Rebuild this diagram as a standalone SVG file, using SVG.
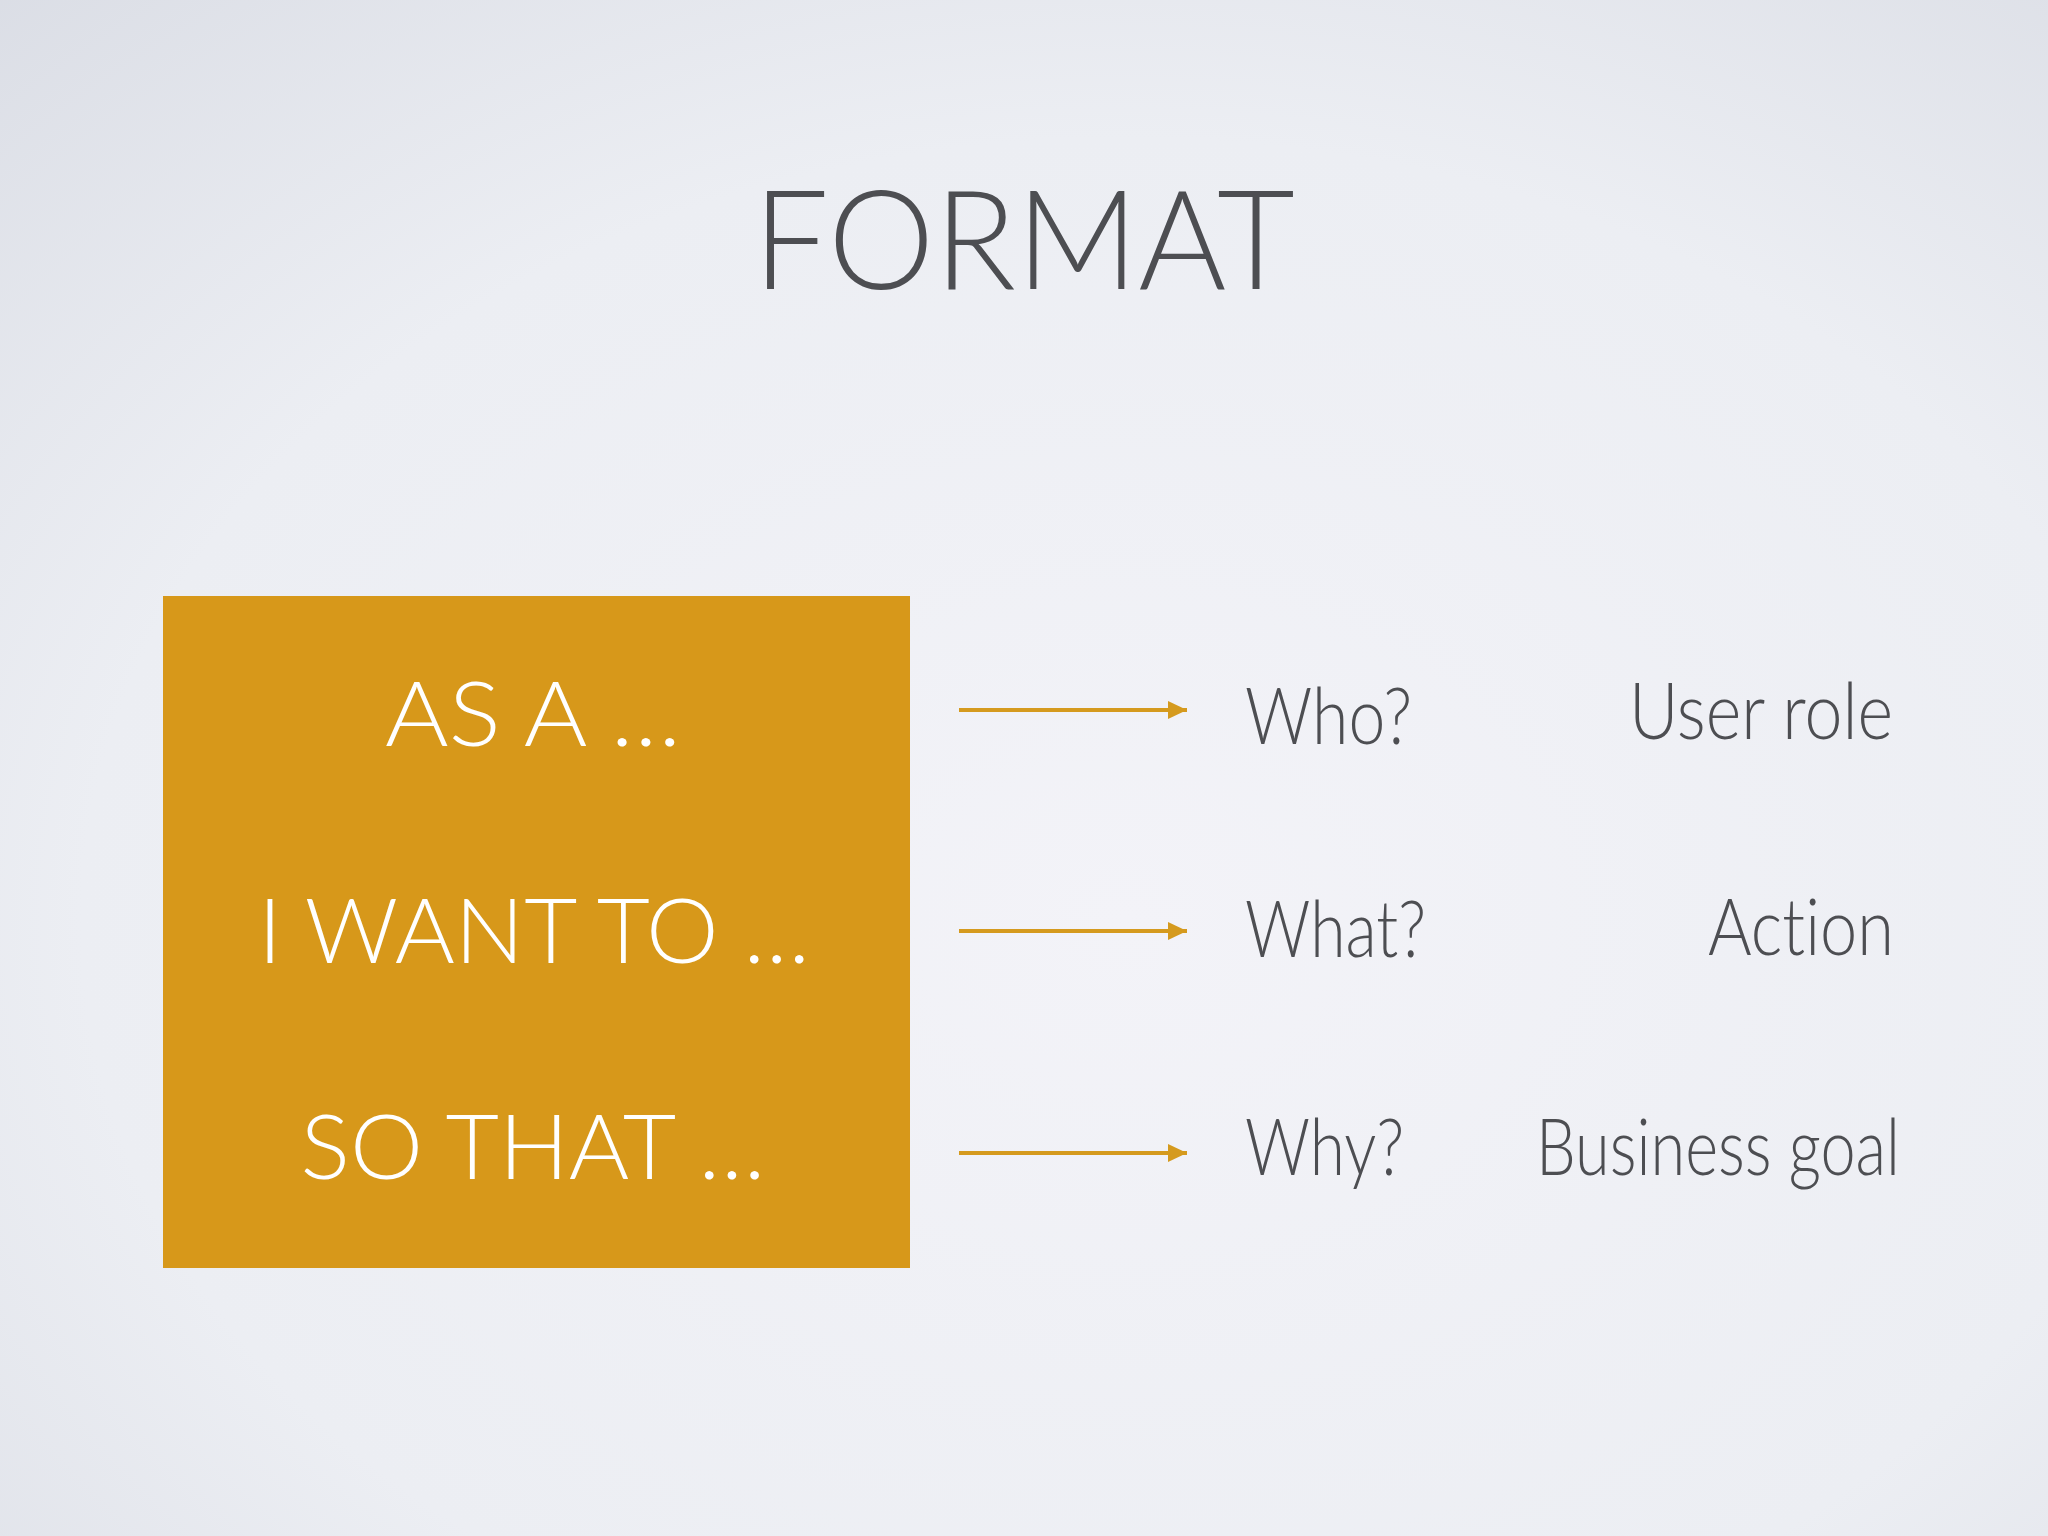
<svg xmlns="http://www.w3.org/2000/svg" width="2048" height="1536" viewBox="0 0 2048 1536">
  <defs>
    <radialGradient id="bg" cx="0.55" cy="0.6" r="0.85">
      <stop offset="0" stop-color="#f3f3f8"/>
      <stop offset="0.6" stop-color="#eceef3"/>
      <stop offset="1" stop-color="#d9dce4"/>
    </radialGradient>
    <marker id="arrow" viewBox="0 0 20 20" refX="19" refY="10" markerWidth="20" markerHeight="20" markerUnits="userSpaceOnUse" orient="auto">
      <path d="M0,1 L19,10 L0,19 Z" fill="#d59a1e"/>
    </marker>
    <style>
      text { font-variant-ligatures: none; font-feature-settings: "liga" 0, "dlig" 0; }
      .title { font-family: "Lato", "Open Sans", "Liberation Sans", sans-serif; font-weight: 300; fill: #4d4e52; font-size: 138px; }
      .box-text { font-family: "Lato", "Open Sans", "Liberation Sans", sans-serif; font-weight: 300; fill: #ffffff; font-size: 90px; text-anchor: middle; }
      .q { font-family: "Lato", "Open Sans", "Liberation Sans", sans-serif; font-weight: 300; fill: #4d4e52; font-size: 78px; }
      .a { font-family: "Lato", "Open Sans", "Liberation Sans", sans-serif; font-weight: 300; fill: #4d4e52; font-size: 78px; text-anchor: end; }
      .conn { stroke: #d59a1e; stroke-width: 4; fill: none; marker-end: url(#arrow); }
    </style>
  </defs>
  <rect x="0" y="0" width="2048" height="1536" fill="url(#bg)"/>

  <g id="title">
    <text class="title" x="1024" y="289" text-anchor="middle" textLength="542" lengthAdjust="spacingAndGlyphs">FORMAT</text>
  </g>

  <g id="story-box">
    <rect x="163" y="596" width="747" height="672" fill="#d7981a"/>
    <text class="box-text" x="533" y="746" textLength="296" lengthAdjust="spacingAndGlyphs">AS A …</text>
    <text class="box-text" x="534" y="963" textLength="552" lengthAdjust="spacingAndGlyphs">I WANT TO …</text>
    <text class="box-text" x="533" y="1179" textLength="465" lengthAdjust="spacingAndGlyphs">SO THAT …</text>
  </g>

  <g id="connectors">
    <line class="conn" x1="959" y1="710" x2="1187" y2="710"/>
    <line class="conn" x1="959" y1="931" x2="1187" y2="931"/>
    <line class="conn" x1="959" y1="1153" x2="1187" y2="1153"/>
  </g>

  <g id="who">
    <text class="q" x="1245" y="744" textLength="167" lengthAdjust="spacingAndGlyphs">Who?</text>
  </g>
  <g id="what">
    <text class="q" x="1245" y="957" textLength="181" lengthAdjust="spacingAndGlyphs">What?</text>
  </g>
  <g id="why">
    <text class="q" x="1245" y="1175" textLength="159" lengthAdjust="spacingAndGlyphs">Why?</text>
  </g>

  <g id="user-role">
    <text class="a" x="1893" y="739" textLength="264" lengthAdjust="spacingAndGlyphs">User role</text>
  </g>
  <g id="action">
    <text class="a" x="1894" y="955" textLength="186" lengthAdjust="spacingAndGlyphs">Action</text>
  </g>
  <g id="business-goal">
    <text class="a" x="1900" y="1175" textLength="364" lengthAdjust="spacingAndGlyphs">Business goal</text>
  </g>
</svg>
